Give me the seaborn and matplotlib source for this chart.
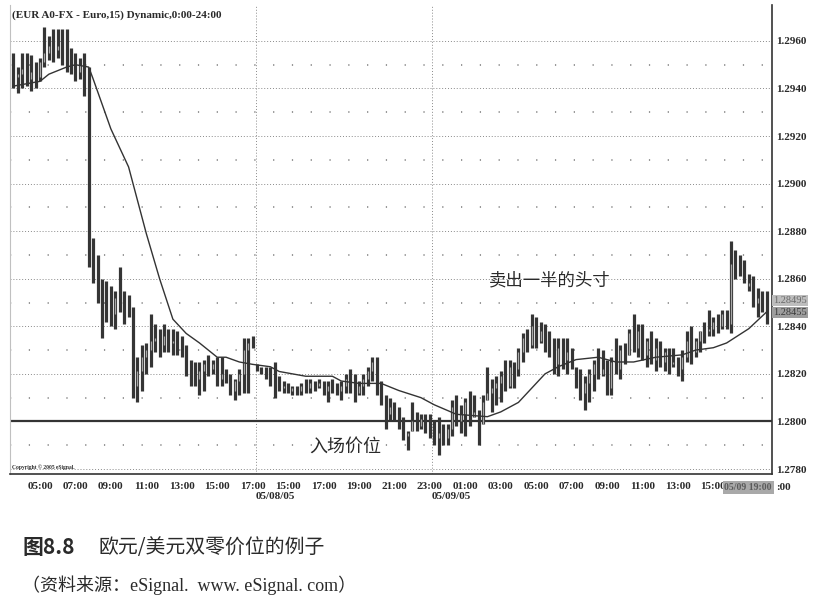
import numpy as np
import matplotlib
matplotlib.use("Agg")
import matplotlib.pyplot as plt
import matplotlib.transforms as mtransforms
import seaborn as sns

# ── DATA (EUR/USD 15-min bars) ───────────────────────────────────────────────
bar_high = [
    1.2955, 1.2949, 1.2955, 1.2955, 1.2954, 1.2951, 1.2953, 1.2966, 1.2962, 1.2965,
    1.2965, 1.2965, 1.2965, 1.2957, 1.2955, 1.2953, 1.2955, 1.2949, 1.2877, 1.2870,
    1.2860, 1.2859, 1.2857, 1.2855, 1.2865, 1.2855, 1.2853, 1.2848, 1.2827, 1.2832,
    1.2833, 1.2845, 1.2841, 1.2839, 1.2841, 1.2839, 1.2839, 1.2838, 1.2836, 1.2832,
    1.2826, 1.2825, 1.2825, 1.2826, 1.2828, 1.2826, 1.2827, 1.2827, 1.2822, 1.2820,
    1.2818, 1.2822, 1.2835, 1.2835, 1.2836, 1.2824, 1.2823, 1.2823, 1.2823, 1.2825,
    1.2819, 1.2817, 1.2816, 1.2815, 1.2815, 1.2816, 1.2818, 1.2818, 1.2817, 1.2818,
    1.2817, 1.2817, 1.2818, 1.2816, 1.2817, 1.2820, 1.2822, 1.2820, 1.2817, 1.2820,
    1.2823, 1.2827, 1.2827, 1.2817, 1.2811, 1.2810, 1.2808, 1.2806, 1.2802, 1.2796,
    1.2808, 1.2804, 1.2803, 1.2803, 1.2803, 1.2800, 1.2802, 1.2799, 1.2799, 1.2809,
    1.2811, 1.2807, 1.2810, 1.2813, 1.2811, 1.2805, 1.2811, 1.2823, 1.2818, 1.2819,
    1.2821, 1.2826, 1.2826, 1.2825, 1.2831, 1.2837, 1.2839, 1.2845, 1.2844, 1.2842,
    1.2841, 1.2838, 1.2835, 1.2835, 1.2835, 1.2835, 1.2831, 1.2823, 1.2822, 1.2819,
    1.2822, 1.2826, 1.2831, 1.2830, 1.2826, 1.2827, 1.2835, 1.2832, 1.2833, 1.2839,
    1.2845, 1.2841, 1.2841, 1.2835, 1.2838, 1.2835, 1.2834, 1.2831, 1.2831, 1.2831,
    1.2827, 1.2830, 1.2838, 1.2840, 1.2835, 1.2838, 1.2842, 1.2847, 1.2844, 1.2845,
    1.2847, 1.2847, 1.2876, 1.2872, 1.2870, 1.2868, 1.2862, 1.2861, 1.2856, 1.2855,
    1.2855,
]
bar_low = [
    1.2940, 1.2938, 1.2940, 1.2941, 1.2939, 1.2940, 1.2943, 1.2949, 1.2952, 1.2951,
    1.2953, 1.2950, 1.2947, 1.2946, 1.2943, 1.2944, 1.2937, 1.2865, 1.2858, 1.2850,
    1.2835, 1.2842, 1.2840, 1.2839, 1.2846, 1.2841, 1.2844, 1.2810, 1.2808, 1.2813,
    1.2820, 1.2823, 1.2829, 1.2827, 1.2829, 1.2829, 1.2828, 1.2828, 1.2827, 1.2819,
    1.2815, 1.2815, 1.2811, 1.2813, 1.2819, 1.2820, 1.2815, 1.2815, 1.2816, 1.2811,
    1.2809, 1.2811, 1.2812, 1.2812, 1.2831, 1.2821, 1.2820, 1.2818, 1.2815, 1.2810,
    1.2813, 1.2812, 1.2812, 1.2811, 1.2811, 1.2811, 1.2812, 1.2812, 1.2813, 1.2814,
    1.2811, 1.2808, 1.2812, 1.2811, 1.2809, 1.2812, 1.2812, 1.2808, 1.2811, 1.2811,
    1.2815, 1.2817, 1.2811, 1.2807, 1.2797, 1.2800, 1.2800, 1.2797, 1.2792, 1.2788,
    1.2796, 1.2796, 1.2797, 1.2795, 1.2793, 1.2790, 1.2786, 1.2790, 1.2790, 1.2794,
    1.2798, 1.2795, 1.2794, 1.2798, 1.2802, 1.2790, 1.2799, 1.2809, 1.2804, 1.2807,
    1.2808, 1.2813, 1.2814, 1.2814, 1.2819, 1.2825, 1.2829, 1.2831, 1.2831, 1.2833,
    1.2829, 1.2827, 1.2820, 1.2819, 1.2822, 1.2820, 1.2822, 1.2814, 1.2809, 1.2805,
    1.2808, 1.2813, 1.2818, 1.2819, 1.2811, 1.2811, 1.2820, 1.2818, 1.2824, 1.2828,
    1.2829, 1.2827, 1.2826, 1.2823, 1.2824, 1.2821, 1.2823, 1.2821, 1.2820, 1.2823,
    1.2819, 1.2817, 1.2825, 1.2824, 1.2827, 1.2829, 1.2833, 1.2836, 1.2836, 1.2837,
    1.2839, 1.2839, 1.2837, 1.2860, 1.2861, 1.2858, 1.2855, 1.2848, 1.2844, 1.2846,
    1.2841,
]
bar_close = [
    1.2945, 1.2946, 1.2948, 1.2944, 1.2947, 1.2945, 1.2951, 1.2955, 1.2958, 1.2956,
    1.2958, 1.2954, 1.2951, 1.2949, 1.2947, 1.2950, 1.2946, 1.2870, 1.2862, 1.2855,
    1.2848, 1.2847, 1.2845, 1.2852, 1.2849, 1.2847, 1.2846, 1.2815, 1.2821, 1.2827,
    1.2830, 1.2834, 1.2835, 1.2832, 1.2836, 1.2833, 1.2834, 1.2831, 1.2829, 1.2822,
    1.2820, 1.2818, 1.2821, 1.2824, 1.2822, 1.2824, 1.2818, 1.2820, 1.2818, 1.2813,
    1.2817, 1.2820, 1.2830, 1.2833, 1.2832, 1.2822, 1.2821, 1.2820, 1.2819, 1.2815,
    1.2814, 1.2815, 1.2813, 1.2814, 1.2813, 1.2815, 1.2814, 1.2816, 1.2815, 1.2816,
    1.2813, 1.2815, 1.2814, 1.2813, 1.2815, 1.2818, 1.2814, 1.2812, 1.2815, 1.2818,
    1.2821, 1.2825, 1.2813, 1.2809, 1.2803, 1.2806, 1.2802, 1.2799, 1.2794, 1.2795,
    1.2800, 1.2798, 1.2801, 1.2799, 1.2796, 1.2793, 1.2795, 1.2793, 1.2797, 1.2806,
    1.2800, 1.2803, 1.2808, 1.2801, 1.2804, 1.2797, 1.2808, 1.2812, 1.2814, 1.2816,
    1.2819, 1.2815, 1.2823, 1.2822, 1.2829, 1.2835, 1.2832, 1.2840, 1.2834, 1.2838,
    1.2833, 1.2830, 1.2824, 1.2831, 1.2826, 1.2829, 1.2824, 1.2816, 1.2812, 1.2816,
    1.2820, 1.2824, 1.2820, 1.2822, 1.2814, 1.2825, 1.2822, 1.2830, 1.2827, 1.2837,
    1.2831, 1.2838, 1.2828, 1.2834, 1.2826, 1.2831, 1.2825, 1.2829, 1.2824, 1.2825,
    1.2822, 1.2827, 1.2834, 1.2829, 1.2834, 1.2840, 1.2838, 1.2839, 1.2842, 1.2840,
    1.2845, 1.2841, 1.2866, 1.2864, 1.2862, 1.2857, 1.2858, 1.2850, 1.2852, 1.2848,
    1.28455,
]
first_open = 1.2950

# moving average, read at a few bars and joined
ma_bar = [0, 6, 8, 12, 14, 17, 18, 22, 26, 30, 33, 36, 39, 42, 46, 48, 51, 54, 58,
          60, 66, 72, 74, 78, 83, 87, 92, 95, 100, 107, 110, 114, 117, 120, 123,
          127, 132, 136, 140, 145, 151, 154, 158, 161, 166, 170]
ma_value = [1.2941, 1.2943, 1.2946, 1.2949, 1.2950, 1.2949, 1.2944, 1.2923, 1.2907,
            1.2879, 1.2860, 1.2843, 1.2837, 1.2833, 1.2827, 1.2827, 1.2825, 1.2824,
            1.2823, 1.2821, 1.2819, 1.2819, 1.2817, 1.2816, 1.2816, 1.2813, 1.2810,
            1.2807, 1.2803, 1.2802, 1.2804, 1.2808, 1.2814, 1.2820, 1.2823, 1.2826,
            1.2827, 1.2825, 1.2825, 1.2827, 1.2828, 1.2830, 1.2831, 1.2833, 1.2839,
            1.2846]

entry_price = 1.2800
# the last labels (17:00, 19:00) sit under the cursor box; only ":00" shows
time_labels = ["05:00", "07:00", "09:00", "11:00", "13:00", "15:00", "17:00",
               "15:00", "17:00", "19:00", "21:00", "23:00", "01:00", "03:00",
               "05:00", "07:00", "09:00", "11:00", "13:00", "15:00"]
first_label_bar = 6      # 05:00 is the 7th bar, labels every 8 bars (2 hours)
day_break_bar = [54.7, 94.5]
day_labels = ["05/08/05", "05/09/05"]
cursor_label = "05/09 19:00"
last_price_labels = ["1.28495", "1.28455"]
last_price_levels = [1.28508, 1.28458]

# ── PLOT ─────────────────────────────────────────────────────────────────────
sns.set_theme(style="white")
plt.rcParams["font.family"] = ["Liberation Serif", "Noto Sans CJK SC", "DejaVu Sans"]
ink = "#2a2a2a"
cjk = ["Noto Sans CJK SC", "DejaVu Sans"]

fig = plt.figure(figsize=(8.27, 6.07), dpi=100)
ax = fig.add_axes([10 / 827, 133 / 607, 762 / 827, 469 / 607])

high = np.array(bar_high)
low = np.array(bar_low)
close = np.array(bar_close)
open_ = np.concatenate([[first_open], close[:-1]])
x = np.arange(len(high))

# dotted price grid
major = np.round(np.arange(1.2780, 1.29601, 0.002), 4)
minor = np.round(np.arange(1.2790, 1.29501, 0.002), 4)
for lvl in major:
    ax.axhline(lvl, color="#8a8a8a", lw=0.7, ls=(0, (1, 2)), zorder=1)
for lvl in minor:
    ax.axhline(lvl, color="#7a7a7a", lw=1.1, ls=(0, (0.8, 11.5)), zorder=1)
for b in day_break_bar:
    ax.axvline(b, color="#8a8a8a", lw=0.7, ls=(0, (1, 2)), zorder=1)

ax.axhline(entry_price, color="#333333", lw=1.6, zorder=2)

# bars: high-low, with hollow body on up bars
ax.vlines(x, low, high, color="#353535", lw=2.3, zorder=3)
up = close > open_
body_lo = np.clip(np.minimum(open_, close), low, high)
body_hi = np.clip(np.maximum(open_, close), low, high)
ax.vlines(x[up], body_lo[up], body_hi[up], color="#a8a8a8", lw=0.9, zorder=4)

sns.lineplot(x=ma_bar, y=ma_value, ax=ax, color="#333333", lw=1.0, zorder=5)

ax.set_xlim(-0.77, 171.24)
ax.set_ylim(1.27779, 1.29751)
ax.set_xlabel("")
ax.set_ylabel("")

ax.yaxis.tick_right()
ax.set_yticks(major)
ax.set_yticklabels([f"{v:.4f}" for v in major], fontsize=8, fontweight="bold", color=ink)
ax.tick_params(axis="y", length=0, pad=3)

tick_pos = [first_label_bar + 8 * k for k in range(len(time_labels))]
ax.set_xticks(tick_pos)
ax.set_xticklabels(time_labels, fontsize=8, fontweight="bold", color=ink)
ax.tick_params(axis="x", length=0, pad=6)

ax.spines["top"].set_visible(False)
ax.spines["left"].set_color("#c0c0c0")
ax.spines["left"].set_linewidth(0.8)
for side in ["right", "bottom"]:
    ax.spines[side].set_color("#333333")
    ax.spines[side].set_linewidth(1.2)

bx = mtransforms.blended_transform_factory(ax.transData, ax.transAxes)
by = mtransforms.blended_transform_factory(ax.transAxes, ax.transData)

for b, lab in zip(day_break_bar, day_labels):
    ax.text(b, -0.049, lab, transform=bx, ha="left", va="center", fontsize=8,
            fontweight="bold", color=ink, clip_on=False)

# cursor time box on the x axis, and the tail of the hidden label after it
ax.text(1.0, -0.028, cursor_label, transform=ax.transAxes, ha="right", va="center",
        fontsize=7, fontweight="bold", color="#5a5a5a", clip_on=False, zorder=7,
        bbox=dict(boxstyle="square,pad=0.2", fc="#a9a9a9", ec="none"))
ax.text(1.006, -0.028, ":00", transform=ax.transAxes, ha="left", va="center",
        fontsize=8, fontweight="bold", color=ink, clip_on=False)

# last price boxes on the price axis
for lab, lvl, fc, tc in zip(last_price_labels, last_price_levels,
                            ["#bdbdbd", "#9d9d9d"], ["#6a6a6a", "#3a3a3a"]):
    ax.text(1.002, lvl, lab, transform=by, ha="left", va="center", fontsize=7.5,
            color=tc, clip_on=False, zorder=7,
            bbox=dict(boxstyle="square,pad=0.1", fc=fc, ec="none"))

ax.text(0.003, 0.988, "(EUR A0-FX - Euro,15) Dynamic,0:00-24:00", transform=ax.transAxes,
        ha="left", va="top", fontsize=8, fontweight="bold", color=ink)
ax.text(0.003, 0.008, "Copyright \u00a9 2005 eSignal.", transform=ax.transAxes,
        ha="left", va="bottom", fontsize=4, fontweight="bold", color=ink)

# annotations
ax.text(121.1, 1.28592, "卖出一半的头寸", ha="center", va="center", fontsize=12.5,
        family=cjk, color=ink)
ax.text(74.8, 1.27894, "入场价位", ha="center", va="center", fontsize=13,
        family=cjk, color=ink)

# book caption
fig.text(23 / 827, 1 - 548 / 607, "图8.8", ha="left", va="center", fontsize=15,
         fontweight="bold", family=cjk, color=ink)
fig.text(99 / 827, 1 - 548 / 607, "欧元/美元双零价位的例子", ha="left", va="center",
         fontsize=14.3, family=cjk, color=ink)
fig.text(22 / 827, 1 - 585 / 607, "（资料来源：eSignal.  www. eSignal. com）", ha="left",
         va="center", fontsize=13, family=["Liberation Serif", "Noto Sans CJK SC"],
         color=ink)

fig.savefig("out.png", dpi=100)
